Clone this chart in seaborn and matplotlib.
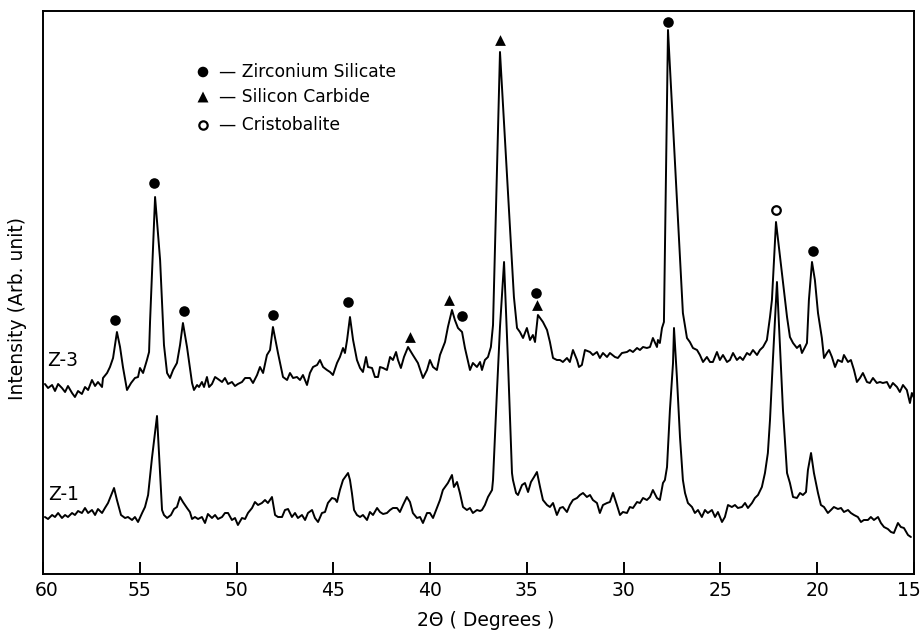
import numpy as np
import pandas as pd
import matplotlib
matplotlib.use("Agg")
import matplotlib.pyplot as plt
import matplotlib.transforms as mtransforms
import seaborn as sns

# ---- data (2-theta in degrees, intensity in arbitrary units) ----
two_theta_z3 = [59.90, 59.74, 59.53, 59.38, 59.22, 59.02, 58.86, 58.71, 58.50, 58.35,
                58.19, 57.99, 57.83, 57.67, 57.47, 57.31, 57.16, 56.95, 56.90, 56.69,
                56.54, 56.38, 56.18, 56.02, 55.87, 55.66, 55.45, 55.25, 55.09, 54.99,
                54.83, 54.63, 54.52, 54.47, 54.21, 53.95, 53.75, 53.59, 53.44, 53.28,
                53.08, 52.92, 52.77, 52.56, 52.41, 52.30, 52.20, 52.04, 51.94, 51.79,
                51.68, 51.53, 51.42, 51.27, 51.11, 50.96, 50.75, 50.60, 50.44, 50.24,
                50.08, 49.93, 49.72, 49.56, 49.31, 49.15, 48.94, 48.79, 48.63, 48.43,
                48.27, 48.12, 47.86, 47.60, 47.39, 47.24, 47.08, 46.88, 46.72, 46.57,
                46.36, 46.21, 46.05, 45.84, 45.69, 45.53, 45.33, 45.17, 45.02, 44.81,
                44.66, 44.50, 44.40, 44.29, 44.14, 43.98, 43.78, 43.62, 43.47, 43.31,
                43.21, 43.00, 42.85, 42.69, 42.59, 42.43, 42.23, 42.07, 41.92, 41.76,
                41.66, 41.51, 41.35, 41.14, 40.89, 40.63, 40.37, 40.16, 40.01, 39.85,
                39.65, 39.49, 39.23, 39.08, 38.87, 38.72, 38.56, 38.35, 38.20, 37.94,
                37.79, 37.58, 37.42, 37.32, 37.17, 37.01, 36.86, 36.75, 36.39, 35.67,
                35.51, 35.36, 35.20, 35.00, 34.84, 34.69, 34.58, 34.43, 34.32, 34.17,
                33.96, 33.81, 33.65, 33.45, 33.29, 33.14, 32.93, 32.78, 32.62, 32.41,
                32.31, 32.16, 32.00, 31.74, 31.59, 31.38, 31.23, 31.07, 30.86, 30.71,
                30.45, 30.30, 30.09, 29.83, 29.68, 29.52, 29.31, 29.16, 29.00, 28.80,
                28.64, 28.49, 28.28, 28.23, 28.13, 28.02, 27.92, 27.71, 26.94, 26.73,
                26.58, 26.42, 26.21, 26.06, 25.90, 25.70, 25.54, 25.39, 25.18, 25.03,
                24.87, 24.66, 24.51, 24.35, 24.15, 23.99, 23.84, 23.63, 23.48, 23.32,
                23.11, 22.96, 22.80, 22.60, 22.44, 22.34, 22.13, 21.56, 21.41, 21.25,
                21.05, 20.89, 20.79, 20.63, 20.53, 20.43, 20.27, 20.12, 19.96, 19.76,
                19.65, 19.50, 19.39, 19.24, 19.08, 18.93, 18.72, 18.62, 18.41, 18.26,
                18.10, 17.95, 17.79, 17.64, 17.43, 17.28, 17.12, 16.92, 16.76, 16.61,
                16.40, 16.24, 16.09, 15.88, 15.73, 15.57, 15.37, 15.21, 15.11, 15.00]
intensity_z3 = [190, 186, 189, 183, 190, 186, 182, 188, 181, 177,
                183, 180, 187, 184, 194, 188, 192, 187, 196, 201,
                207, 216, 242, 227, 207, 184, 191, 196, 197, 206,
                201, 214, 222, 252, 377, 314, 229, 201, 196, 204,
                211, 229, 251, 227, 206, 191, 184, 189, 187, 192,
                187, 197, 187, 190, 197, 195, 192, 196, 190, 192,
                188, 190, 192, 196, 196, 191, 199, 207, 201, 219,
                224, 247, 221, 197, 194, 201, 196, 197, 194, 199,
                189, 201, 207, 209, 214, 207, 204, 202, 199, 211,
                217, 226, 221, 234, 257, 234, 214, 206, 202, 217,
                207, 206, 197, 197, 207, 206, 204, 217, 214, 222,
                214, 206, 217, 227, 219, 211, 196, 204, 214, 207,
                204, 219, 232, 247, 264, 254, 246, 242, 226, 204,
                211, 207, 212, 204, 214, 217, 227, 249, 522, 277,
                246, 242, 236, 246, 234, 239, 232, 259, 256, 252,
                244, 232, 216, 214, 214, 212, 216, 212, 224, 214,
                207, 209, 224, 222, 219, 222, 216, 221, 217, 221,
                217, 216, 221, 222, 224, 222, 226, 224, 227, 226,
                227, 236, 227, 234, 231, 246, 252, 544, 261, 236,
                232, 226, 224, 219, 212, 217, 212, 212, 222, 214,
                219, 212, 214, 221, 214, 217, 214, 221, 219, 224,
                219, 224, 227, 234, 257, 274, 352, 257, 237, 231,
                226, 229, 221, 227, 231, 274, 312, 294, 261, 236,
                216, 221, 224, 217, 207, 214, 212, 219, 212, 214,
                204, 192, 196, 201, 192, 191, 196, 191, 192, 191,
                192, 186, 191, 187, 182, 189, 184, 171, 181, 176]

two_theta_z1 = [59.90, 59.74, 59.53, 59.38, 59.22, 59.02, 58.86, 58.71, 58.50, 58.35,
                58.19, 57.99, 57.83, 57.67, 57.47, 57.31, 57.16, 56.95, 56.80, 56.64,
                56.43, 56.33, 56.18, 55.97, 55.76, 55.61, 55.40, 55.25, 55.09, 54.88,
                54.73, 54.57, 54.37, 54.11, 53.85, 53.75, 53.59, 53.39, 53.23, 53.08,
                52.92, 52.77, 52.56, 52.41, 52.30, 52.15, 51.99, 51.79, 51.63, 51.48,
                51.27, 51.11, 50.96, 50.75, 50.60, 50.44, 50.24, 50.08, 49.93, 49.72,
                49.56, 49.41, 49.20, 49.05, 48.89, 48.69, 48.53, 48.38, 48.17, 48.01,
                47.86, 47.65, 47.50, 47.34, 47.14, 46.98, 46.83, 46.62, 46.46, 46.31,
                46.10, 45.95, 45.79, 45.59, 45.43, 45.28, 45.07, 44.91, 44.81, 44.66,
                44.50, 44.24, 44.14, 44.04, 43.93, 43.78, 43.62, 43.47, 43.26, 43.11,
                42.95, 42.74, 42.59, 42.43, 42.23, 42.07, 41.92, 41.71, 41.56, 41.40,
                41.20, 41.04, 40.89, 40.68, 40.52, 40.37, 40.16, 40.01, 39.85, 39.65,
                39.49, 39.34, 39.08, 38.87, 38.77, 38.61, 38.46, 38.30, 38.10, 37.94,
                37.79, 37.58, 37.42, 37.32, 37.17, 37.01, 36.80, 36.75, 36.55, 36.39,
                36.18, 35.98, 35.77, 35.72, 35.56, 35.46, 35.25, 35.10, 34.94, 34.79,
                34.63, 34.48, 34.32, 34.17, 33.96, 33.81, 33.65, 33.45, 33.29, 33.14,
                32.93, 32.78, 32.62, 32.41, 32.26, 32.10, 31.90, 31.74, 31.59, 31.38,
                31.23, 31.07, 30.86, 30.71, 30.55, 30.35, 30.19, 30.04, 29.83, 29.68,
                29.52, 29.31, 29.16, 29.00, 28.80, 28.64, 28.49, 28.28, 28.13, 27.97,
                27.87, 27.76, 27.61, 27.45, 27.40, 27.25, 27.09, 26.94, 26.83, 26.68,
                26.47, 26.32, 26.16, 25.96, 25.80, 25.65, 25.44, 25.28, 25.13, 24.92,
                24.77, 24.61, 24.41, 24.25, 24.10, 23.89, 23.73, 23.58, 23.37, 23.22,
                23.06, 22.86, 22.70, 22.55, 22.44, 22.29, 22.08, 21.93, 21.77, 21.56,
                21.41, 21.25, 21.05, 20.89, 20.74, 20.58, 20.48, 20.32, 20.17, 19.96,
                19.81, 19.65, 19.45, 19.29, 19.14, 18.93, 18.77, 18.62, 18.41, 18.26,
                18.10, 17.90, 17.74, 17.59, 17.38, 17.23, 17.07, 16.86, 16.71, 16.55,
                16.35, 16.19, 16.04, 15.83, 15.68, 15.52, 15.31, 15.16]
intensity_z1 = [57, 55, 59, 57, 61, 56, 59, 57, 61, 59,
                63, 61, 66, 61, 64, 59, 65, 61, 66, 71,
                81, 86, 74, 59, 56, 57, 54, 57, 52, 61,
                67, 79, 116, 158, 64, 59, 56, 59, 65, 67,
                77, 72, 66, 62, 55, 57, 55, 57, 51, 60,
                56, 59, 55, 57, 61, 61, 54, 56, 49, 56,
                55, 61, 66, 72, 69, 71, 74, 71, 77, 59,
                57, 57, 64, 65, 57, 61, 56, 59, 54, 61,
                64, 56, 52, 61, 62, 71, 76, 75, 72, 84,
                94, 101, 94, 81, 64, 59, 57, 59, 54, 62,
                59, 66, 62, 60, 61, 64, 66, 66, 62, 69,
                77, 72, 61, 56, 57, 51, 61, 61, 56, 66,
                74, 84, 91, 99, 87, 92, 81, 67, 64, 66,
                61, 64, 63, 64, 69, 77, 84, 94, 181, 247,
                312, 214, 101, 94, 81, 79, 89, 91, 82, 92,
                97, 102, 87, 74, 69, 67, 71, 59, 66, 67,
                62, 69, 74, 76, 79, 81, 77, 79, 74, 71,
                61, 69, 71, 72, 81, 69, 59, 62, 61, 67,
                66, 72, 71, 76, 74, 77, 84, 76, 74, 91,
                94, 107, 164, 211, 246, 197, 137, 94, 81, 71,
                67, 61, 64, 57, 64, 61, 64, 57, 62, 52,
                57, 69, 67, 69, 66, 67, 71, 66, 71, 76,
                79, 87, 101, 121, 154, 214, 292, 231, 164, 101,
                91, 77, 76, 81, 79, 82, 104, 121, 101, 81,
                69, 67, 61, 64, 67, 65, 66, 62, 64, 61,
                59, 57, 52, 54, 54, 57, 54, 57, 51, 47,
                45, 42, 41, 51, 47, 46, 39, 37]

# phase markers (peak identification)
zircon_theta = [56.28, 54.26, 52.72, 48.12, 44.24, 38.35, 34.53, 27.71, 20.22]
zircon_int = [254, 391, 263, 259, 272, 258, 281, 552, 323]
sic_theta = [41.04, 39.03, 36.39, 34.48]
sic_int = [237, 274, 534, 269]
cristobalite_theta = [22.13]
cristobalite_int = [364]

x_ticks = [60, 55, 50, 45, 40, 35, 30, 25, 20, 15]
trace_labels = ["Z-3", "Z-1"]
trace_label_pos = [(59.79, 214), (59.74, 79)]
legend_labels = ["Zirconium Silicate", "Silicon Carbide", "Cristobalite"]

# ---- plotting ----
sns.set_theme(style="ticks")
plt.rcParams['font.family'] = ['DejaVu Sans']

W, H = 924, 630
fig = plt.figure(figsize=(W / 100, H / 100), dpi=100)
ax = fig.add_axes([43 / W, 56 / H, 871 / W, 563 / H])

df3 = pd.DataFrame({"two_theta": two_theta_z3, "intensity": intensity_z3})
df1 = pd.DataFrame({"two_theta": two_theta_z1, "intensity": intensity_z1})
sns.lineplot(data=df3, x="two_theta", y="intensity", ax=ax, color="black",
             linewidth=1.4, estimator=None, sort=False)
sns.lineplot(data=df1, x="two_theta", y="intensity", ax=ax, color="black",
             linewidth=1.4, estimator=None, sort=False)

sns.scatterplot(x=zircon_theta, y=zircon_int, ax=ax, marker="o", s=58,
                color="black", linewidth=0, zorder=5)
sns.scatterplot(x=sic_theta, y=sic_int, ax=ax, marker="^", s=60,
                color="black", linewidth=0, zorder=5)
sns.scatterplot(x=cristobalite_theta, y=cristobalite_int, ax=ax, marker="o", s=38,
                facecolor="white", edgecolor="black", linewidth=1.6, zorder=5)

for lab, (tx, ty) in zip(trace_labels, trace_label_pos):
    ax.text(tx, ty, lab, fontsize=13.5, ha="left", va="center", color="black")

# legend (manual, as in the original figure)
leg_x_marker = (203 - 43) / 871
leg_x_text = (219 - 43) / 871
leg_rows = [(574 - 72) / 563, (574 - 97) / 563, (574 - 125) / 563]
leg_styles = [dict(marker="o", s=58, facecolor="black", edgecolor="none", linewidth=0),
              dict(marker="^", s=62, facecolor="black", edgecolor="none", linewidth=0),
              dict(marker="o", s=36, facecolor="white", edgecolor="black", linewidth=1.6)]
for lab, yy, st in zip(legend_labels, leg_rows, leg_styles):
    ax.scatter([leg_x_marker], [yy], transform=ax.transAxes, clip_on=False, zorder=6, **st)
    ax.text(leg_x_text, yy, "\u2014 " + lab, transform=ax.transAxes, fontsize=12.3,
            ha="left", va="center", color="black")

ax.set_xlim(60, 15)
ax.set_ylim(0, 563)
ax.set_xticks(x_ticks)
ax.set_xticklabels([str(t) for t in x_ticks])
ax.set_yticks([])
ax.set_xlabel("")
ax.set_ylabel("")
ax.tick_params(axis="x", direction="in", length=9, width=1.4, labelsize=13.5,
               pad=5, colors="black")
for sp in ax.spines.values():
    sp.set_visible(True)
    sp.set_linewidth(1.4)
    sp.set_color("black")

# nudge the end labels slightly inwards so they stay inside the canvas
labels = ax.get_xticklabels()
labels[0].set_transform(labels[0].get_transform() +
                        mtransforms.ScaledTranslation(4 / 100, 0, fig.dpi_scale_trans))
labels[-1].set_transform(labels[-1].get_transform() +
                         mtransforms.ScaledTranslation(-5 / 100, 0, fig.dpi_scale_trans))

fig.text(486 / W, 1 - 620 / H, "2\u0398 ( Degrees )", fontsize=13.5,
         ha="center", va="center", color="black")
fig.text(18 / W, 1 - 308 / H, "Intensity (Arb. unit)", fontsize=13.5,
         rotation=90, ha="center", va="center", color="black")

fig.savefig("out.png", dpi=100, facecolor="white")
